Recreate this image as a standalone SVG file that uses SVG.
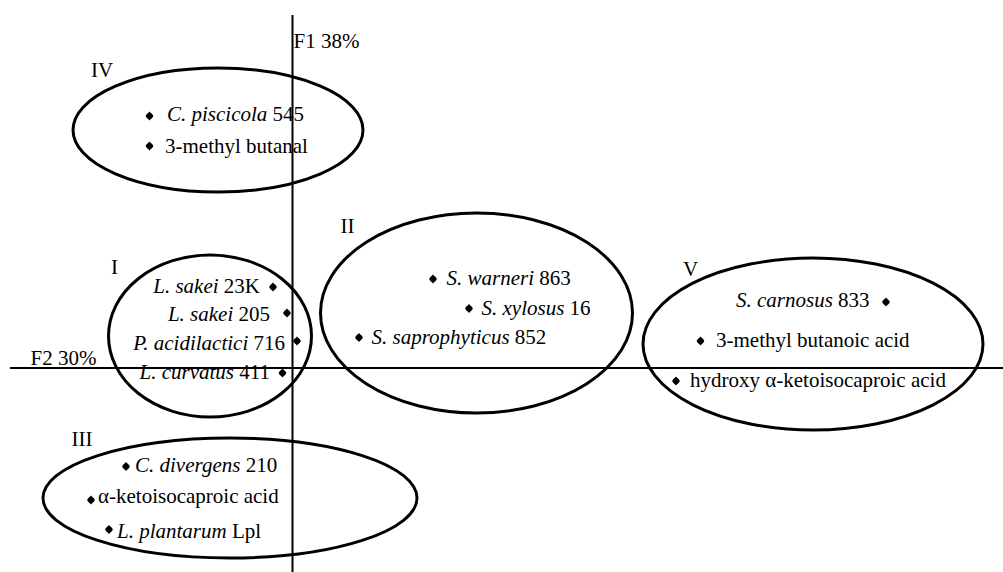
<svg xmlns="http://www.w3.org/2000/svg" width="1003" height="572" viewBox="0 0 1003 572">
<style>
text{font-family:"Liberation Serif","Times New Roman",serif;font-size:21px;fill:#000}
.i{font-style:italic}
.e{fill:none;stroke:#000;stroke-width:3}
.ax{stroke:#000;stroke-width:2}
.r{text-anchor:end}
</style>
<defs>
<path id="dot" d="M0,-4.5 C1.3,-2.9 3.8,-1.3 3.8,0 C3.8,1.3 1.3,2.9 0,4.5 C-1.3,2.9 -3.8,1.3 -3.8,0 C-3.8,-1.3 -1.3,-2.9 0,-4.5Z" fill="#000"/>
</defs>
<rect width="1003" height="572" fill="#fff"/>
<g id="axes">
<line class="ax" x1="292.5" y1="15" x2="292.5" y2="572"/>
<line class="ax" x1="10" y1="368" x2="1003" y2="368"/>
<text x="293.5" y="47.5">F1 38%</text>
<text x="30.5" y="365">F2 30%</text>
</g>
<g id="group-IV">
<ellipse class="e" cx="218" cy="130" rx="145" ry="62"/>
<text x="91" y="77">IV</text>
<use href="#dot" x="149.5" y="116"/>
<text x="167" y="121"><tspan class="i">C. piscicola</tspan> 545</text>
<use href="#dot" x="149.5" y="146"/>
<text x="165" y="152.5">3-methyl butanal</text>
</g>
<g id="group-I">
<ellipse class="e" cx="210" cy="336" rx="101.5" ry="81"/>
<text x="111" y="274">I</text>
<use href="#dot" x="273" y="287"/>
<text class="r" x="260" y="293"><tspan class="i">L. sakei</tspan> 23K</text>
<use href="#dot" x="287" y="313"/>
<text class="r" x="270" y="321"><tspan class="i">L. sakei</tspan> 205</text>
<use href="#dot" x="297" y="341"/>
<text class="r" x="285" y="350"><tspan class="i">P. acidilactici</tspan> 716</text>
<use href="#dot" x="282.5" y="373"/>
<text class="r" x="270" y="379"><tspan class="i">L. curvatus</tspan> 411</text>
</g>
<g id="group-III">
<ellipse class="e" cx="230" cy="498" rx="187" ry="60"/>
<text x="71.5" y="445.5">III</text>
<use href="#dot" x="126" y="466.5"/>
<text x="135" y="472"><tspan class="i">C. divergens</tspan> 210</text>
<use href="#dot" x="91" y="500"/>
<text x="98" y="503">α-ketoisocaproic acid</text>
<use href="#dot" x="109" y="529.5"/>
<text x="117" y="538"><tspan class="i">L. plantarum</tspan> Lpl</text>
</g>
<g id="group-II">
<ellipse class="e" cx="476.5" cy="313" rx="156" ry="100"/>
<text x="340.5" y="233">II</text>
<use href="#dot" x="433" y="279"/>
<text x="446.5" y="285"><tspan class="i">S. warneri</tspan> 863</text>
<use href="#dot" x="469" y="308.5"/>
<text x="481.5" y="315"><tspan class="i">S. xylosus</tspan> 16</text>
<use href="#dot" x="359" y="337.5"/>
<text x="371.5" y="343.5"><tspan class="i">S. saprophyticus</tspan> 852</text>
</g>
<g id="group-V">
<ellipse class="e" cx="813" cy="344" rx="170" ry="86"/>
<text x="683" y="275.5">V</text>
<use href="#dot" x="886" y="302"/>
<text x="736" y="307"><tspan class="i">S. carnosus</tspan> 833</text>
<use href="#dot" x="700.5" y="341"/>
<text x="716" y="347">3-methyl butanoic acid</text>
<use href="#dot" x="676" y="381"/>
<text x="690" y="387">hydroxy α-ketoisocaproic acid</text>
</g>
</svg>
